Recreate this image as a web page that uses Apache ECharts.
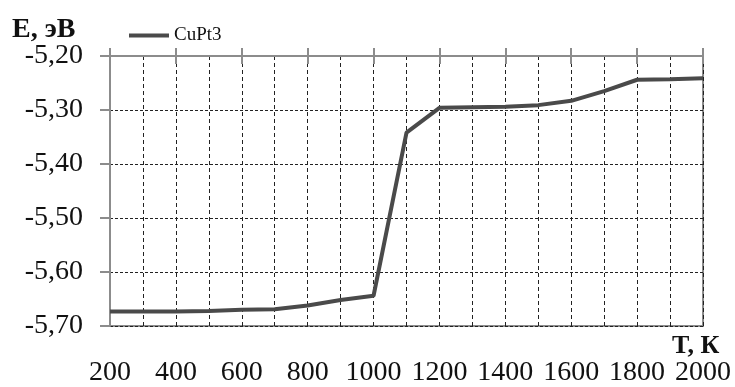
<!DOCTYPE html>
<html>
<head>
<meta charset="utf-8">
<script src="https://cdn.jsdelivr.net/npm/echarts@6/dist/echarts.min.js"></script>
<style>
  html, body { margin: 0; padding: 0; background: #fff; }
  #chart { width: 735px; height: 387px; }
</style>
</head>
<body>
<div id="chart"></div>
<script>
// Temperature steps, K
const temperatures = ['200', '300', '400', '500', '600', '700', '800', '900', '1000', '1100',
                      '1200', '1300', '1400', '1500', '1600', '1700', '1800', '1900', '2000'];
// Energy of CuPt3, eV
const energyCuPt3 = [-5.673, -5.673, -5.673, -5.672, -5.670, -5.669, -5.662, -5.652, -5.644, -5.342,
                     -5.296, -5.295, -5.294, -5.291, -5.283, -5.265, -5.244, -5.243, -5.241];
const seriesName = 'CuPt3';
const yTitle = 'E, эВ';
const xTitle = 'T, К';

const serif = 'Liberation Serif';
const axisGray = '#8c8c8c';
const lineGray = '#4a4a4a';
const gridDash = { type: [4, 3], color: '#222', width: 1 };

const chart = echarts.init(document.getElementById('chart'), null, { renderer: 'canvas' });

const topAxisBase = {
  type: 'category',
  data: temperatures,
  boundaryGap: false,
  position: 'top',
  axisLabel: { show: false },
  splitLine: { show: false }
};

chart.setOption({
  animation: false,
  backgroundColor: '#fff',
  title: [
    { text: yTitle, left: 12, top: 16, padding: 0,
      textStyle: { fontFamily: serif, fontWeight: 'bold', fontSize: 28, color: '#111' } },
    { text: xTitle, left: 672, top: 333, padding: 0,
      textStyle: { fontFamily: serif, fontWeight: 'bold', fontSize: 26, color: '#111' } }
  ],
  legend: {
    data: [{ name: seriesName, icon: 'rect' }],
    left: 129, top: 26, padding: 0,
    itemWidth: 40, itemHeight: 4,
    textStyle: { fontFamily: serif, fontSize: 19, color: '#111', padding: [4, 0, 0, 0] }
  },
  grid: {
    left: 110, right: 32, top: 56, bottom: 61,
    show: true, borderColor: axisGray, borderWidth: 2
  },
  xAxis: [
    {
      type: 'category',
      data: temperatures,
      boundaryGap: false,
      position: 'bottom',
      axisLine: { show: false },
      axisTick: { show: false },
      axisLabel: { interval: 1, margin: 33, fontFamily: serif, fontSize: 28, color: '#111' },
      splitLine: { show: true, interval: 0, lineStyle: gridDash }
    },
    Object.assign({}, topAxisBase, {
      axisLine: { show: true, lineStyle: { color: axisGray, width: 2 } },
      axisTick: { show: true, interval: 1, length: 8, lineStyle: { color: axisGray, width: 2 } }
    }),
    Object.assign({}, topAxisBase, {
      axisLine: { show: false },
      axisTick: { show: true, inside: true, interval: 1, length: 8, lineStyle: { color: axisGray, width: 2 } }
    })
  ],
  yAxis: {
    type: 'value',
    min: -5.7, max: -5.2, interval: 0.1,
    axisLine: { show: true, lineStyle: { color: axisGray, width: 2 } },
    axisTick: { show: true, length: 10, lineStyle: { color: axisGray, width: 2 } },
    axisLabel: {
      margin: 27, fontFamily: serif, fontSize: 28, color: '#111',
      formatter: v => v.toFixed(2).replace('.', ',')
    },
    splitLine: { show: true, lineStyle: { type: [3, 2], color: '#222', width: 1 } }
  },
  series: [{
    name: seriesName,
    type: 'line',
    xAxisIndex: 0,
    data: energyCuPt3,
    symbol: 'none',
    lineStyle: { color: lineGray, width: 4 },
    itemStyle: { color: lineGray },
    z: 5
  }]
});
</script>
</body>
</html>
